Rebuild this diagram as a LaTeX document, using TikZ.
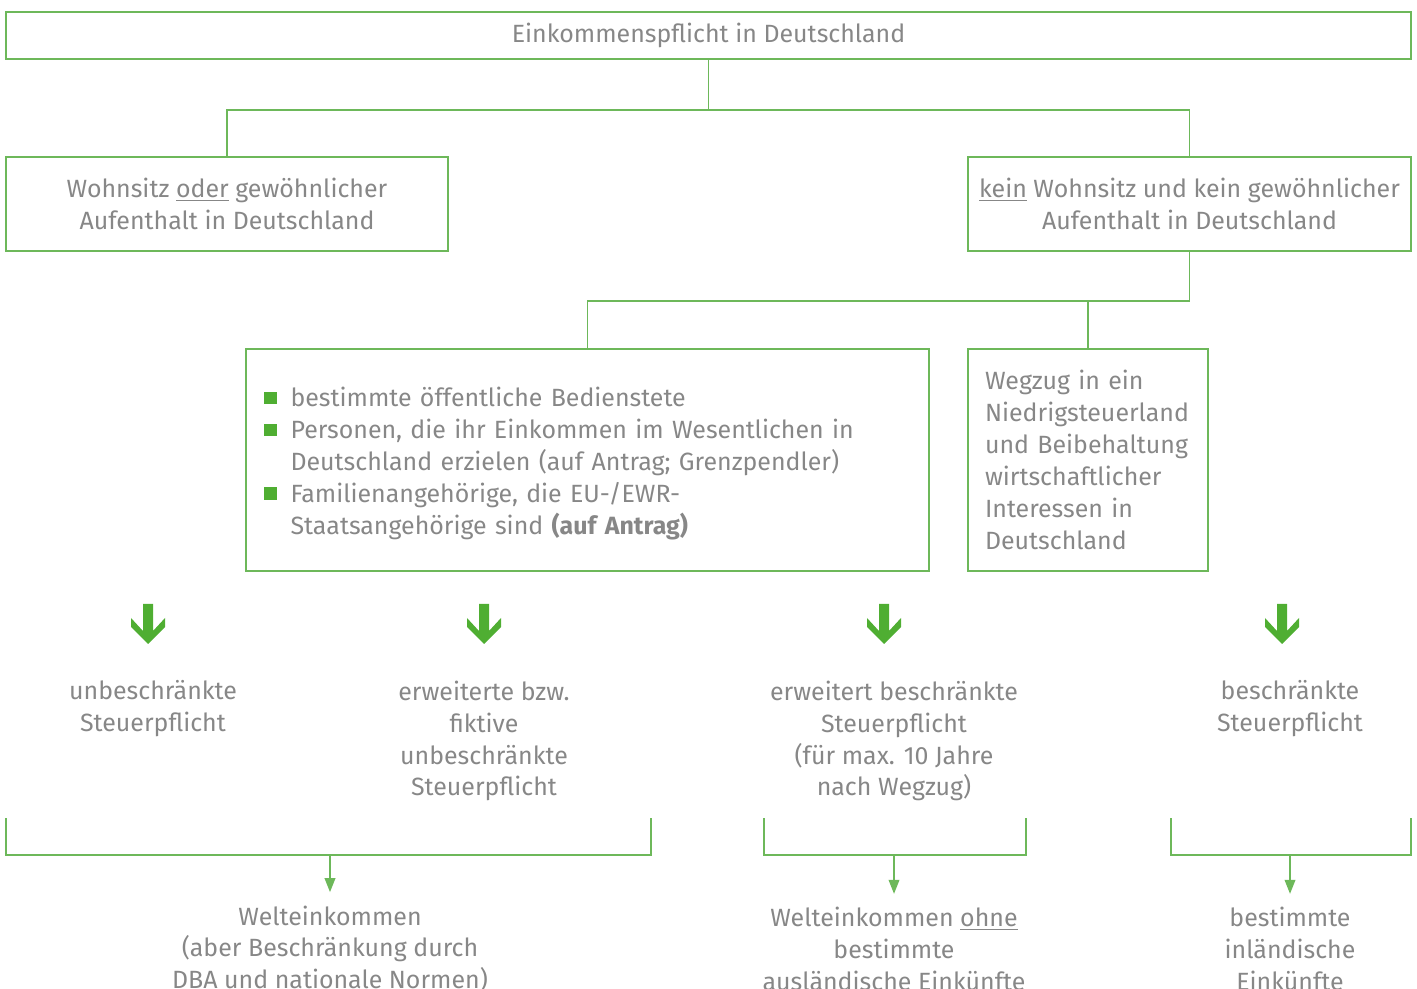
\documentclass[tikz,border=0pt]{standalone}
\usepackage{fontspec}
\setmainfont{Fira Sans}
\usetikzlibrary{arrows.meta}
\definecolor{boxgreen}{HTML}{6DB85A}
\definecolor{arrowgreen}{HTML}{4FAE32}
\definecolor{textgray}{HTML}{878787}
\newcommand{\sqb}{\textcolor{arrowgreen}{\rule[0.1em]{0.5em}{0.5em}}}

\begin{document}
\begin{tikzpicture}[x=0.02cm, y=-0.02cm, font=\fontsize{14.2}{18.14}\selectfont,
	box/.style={draw=boxgreen, line width=1.1pt, text=textgray, inner sep=0pt, align=center},
	lbl/.style={text=textgray, align=center, inner sep=0pt},
	link/.style={draw=boxgreen, line width=1.1pt},
	tip/.style={link, -{Triangle[width=6pt,length=8pt]}, shorten >=0.26cm}]
\useasboundingbox (0,0) rectangle (1417,989);
	\node [box, minimum width=28.1cm, minimum height=0.94cm] (top) at (708.5,35.5) {Einkommenspflicht in Deutschland};
	\node [box, minimum width=8.84cm, minimum height=1.88cm] (left) at (227,204) {Wohnsitz \underline{oder} gewöhnlicher\\Aufenthalt in Deutschland};
	\node [box, minimum width=8.86cm, minimum height=1.88cm] (right) at (1189.5,204) {\underline{kein} Wohnsitz und kein gewöhnlicher\\Aufenthalt in Deutschland};
	\node [box, minimum height=4.44cm, text width=12.94cm, inner xsep=0.36cm, align=left] (mid) at (587.5,460) {%
		\raisebox{-0.08cm}[\height][\depth]{\begin{tabular}{@{}l@{\hspace{0.28cm}}l@{}}
		\sqb & bestimmte öffentliche Bedienstete\\
		\sqb & Personen, die ihr Einkommen im Wesentlichen in\\
		& Deutschland erzielen (auf Antrag; Grenzpendler)\\
		\sqb & Familienangehörige, die EU-/EWR-\\
		& Staatsangehörige sind \textbf{(auf Antrag)}
		\end{tabular}}};
	\node [box, minimum height=4.44cm, text width=4.12cm, inner xsep=0.34cm, align=left] (away) at (1088,460) {Wegzug in ein\\Niedrigsteuerland\\und Beibehaltung\\wirtschaftlicher\\Interessen in\\Deutschland};
	\node [lbl] (ut) at (153,709) {unbeschränkte\\Steuerpflicht};
	\node [lbl] (ft) at (484,741) {erweiterte bzw.\\fiktive\\unbeschränkte\\Steuerpflicht};
	\node [lbl] (et) at (894,741) {erweitert beschränkte\\Steuerpflicht\\(für max. 10 Jahre\\nach Wegzug)};
	\node [lbl] (bt) at (1290,709) {beschränkte\\Steuerpflicht};
	\node [lbl] (w1) at (330,949) {Welteinkommen\\(aber Beschränkung durch\\DBA und nationale Normen)};
	\node [lbl] (w2) at (894,949) {Welteinkommen \underline{ohne}\\bestimmte\\ausländische Einkünfte};
	\node [lbl] (w3) at (1290,949) {bestimmte\\inländische\\Einkünfte};
\draw [link] (top.south) -- ++(0,50) coordinate (j1);
\draw [link] (j1) -| (left.north);
\draw [link] (j1) -| (right.north);
\draw [link] (right.south) -- ++(0,49) coordinate (j2);
\draw [link] (j2) -| (mid.north);
\draw [link] (j2 -| away.north) -- (away.north);
\foreach \c in {148,484,884,1282}
\fill [arrowgreen] (\c-5,604) -- (\c+5,604) -- (\c+5,631) -- (\c+17,618) -- (\c+17,627) -- (\c,644) -- (\c-17,627) -- (\c-17,618) -- (\c-5,631) -- cycle;
\foreach \a/\b/\t in {6/651/w1, 764/1026/w2, 1171/1411/w3}{
\draw [link] (\a,818) |- (\b,855) -- (\b,818);
\draw [tip] (\t.north |- 0,855) -- (\t.north);
}
\end{tikzpicture}
\end{document}
